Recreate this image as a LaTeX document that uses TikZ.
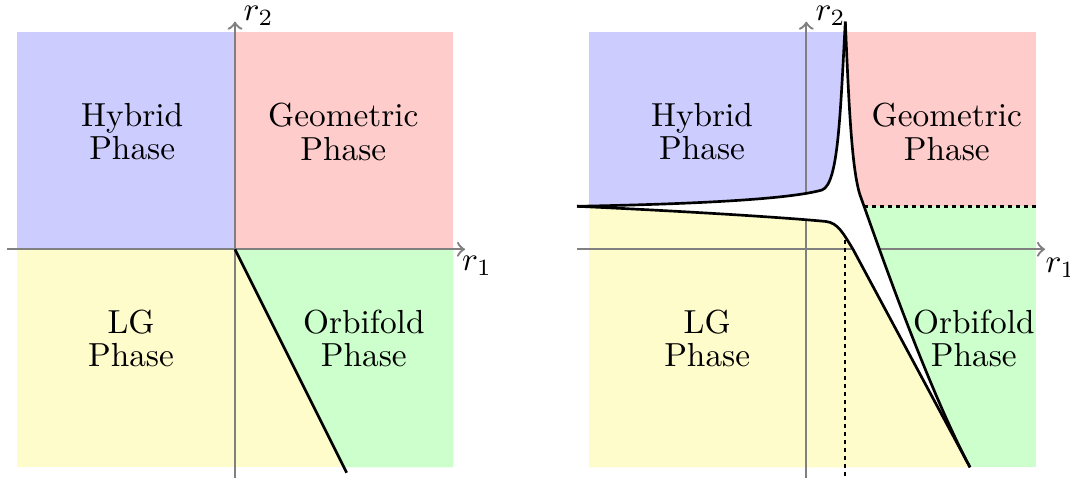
\documentclass[tikz,border=0pt]{standalone}
\begin{document}
\begin{tikzpicture}[x=0.3pt,y=-0.3pt,
  axis/.style={gray, line width=0.7pt, ->},
  bound/.style={black, line width=0.8pt},
  guide/.style={black, line width=0.8pt, dash pattern=on 1.2pt off 1.2pt},
  lbl/.style={align=center, inner sep=0pt, font=\fontsize{10}{10}\selectfont},
  axlbl/.style={anchor=base west, inner sep=0pt}]
\useasboundingbox (0,0) rectangle (1070,479);

% ---------- left diagram ----------
\fill[blue!20] (17.3,32.3) rectangle (235,249.3);
\fill[red!20] (235,32.3) rectangle (453.3,249.3);
\fill[yellow!20] (17.3,249.3) rectangle (453.3,467.3);
\fill[green!20] (235,249.3) -- (453.3,249.3) -- (453.3,467.3) -- (344,467.3) -- cycle;
\coordinate (LO) at (235,249.3);
\coordinate (LX0) at (7.3,249.3);
\coordinate (LX1) at (465,249.3);
\coordinate (LY0) at (235,478);
\coordinate (LY1) at (235,21.7);
\coordinate (LE) at (346.7,472.7);
\draw[axis] (LX0) -- (LX1);
\draw[axis] (LY0) -- (LY1);
\draw[bound] (LO) -- (LE);
\node[axlbl] (lr1) at (461.5,271) {$r_1$};
\node[axlbl] (lr2) at (243,20.5) {$r_2$};
\node[lbl] (lhyb) at (132.2,131.8) {Hybrid\\Phase};
\node[lbl] (lgeo) at (343.3,131.8) {Geometric\\Phase};
\node[lbl] (llg) at (131,338.4) {LG\\Phase};
\node[lbl] (lorb) at (363.8,338.4) {Orbifold\\Phase};

% ---------- right diagram ----------
\fill[red!20] (845,32.3) rectangle (1035.7,206.3);
\fill[green!20] (845,206.3) rectangle (1035.7,467.3);
\begin{scope}
  \clip (589,32.3) rectangle (1035.7,467.3);
  \fill[yellow!20] (577,206.3) .. controls (700,212) and (790,218) .. (826,221.5)
     .. controls (838,223) and (843,233) .. (853,249.3) -- (970,467.3)
     -- (577,467.3) -- cycle;
  \fill[blue!20] (577,206.3) .. controls (700,204) and (790,199) .. (822,190)
     .. controls (838,184) and (840,120) .. (845.3,21.7) -- (577,21.7) -- cycle;
\end{scope}
\coordinate (RX0) at (577,249.3);
\coordinate (RX1) at (1045,249.3);
\coordinate (RY0) at (806.3,478);
\coordinate (RY1) at (806.3,21.7);
\draw[axis] (RX0) -- (RX1);
\draw[axis] (RY0) -- (RY1);
% white gap between the boundaries
\fill[white] (577,206.3) .. controls (700,204) and (790,199) .. (822,190)
   .. controls (838,184) and (840,120) .. (845.3,21.7)
   .. controls (849,110) and (852,170) .. (860,195)
   .. controls (872,228) and (925,383) .. (970,467.3)
   -- (853,249.3) .. controls (843,233) and (838,223) .. (826,221.5)
   .. controls (790,218) and (700,212) .. (577,206.3) -- cycle;
\coordinate (RL) at (577,206.3);
\coordinate (RT) at (845.3,21.7);
\coordinate (RB) at (970,467.3);
\draw[bound] (RL) .. controls (700,204) and (790,199) .. (822,190)
   .. controls (838,184) and (840,120) .. (RT);
\draw[bound] (RT) .. controls (849,110) and (852,170) .. (860,195)
   .. controls (872,228) and (925,383) .. (RB);
\draw[bound] (RL) .. controls (700,212) and (790,218) .. (826,221.5)
   .. controls (838,223) and (843,233) .. (853,249.3) -- (RB);
\coordinate (DH0) at (864,206.3);
\coordinate (DH1) at (1035.7,206.3);
\coordinate (DV0) at (845,240);
\coordinate (DV1) at (845,479);
\draw[guide] (DH0) -- (DH1);
\draw[guide] (DV0) -- (DV1);
\node[axlbl] (rr1) at (1045,273) {$r_1$};
\node[axlbl] (rr2) at (815,20.5) {$r_2$};
\node[lbl] (rhyb) at (702,131.8) {Hybrid\\Phase};
\node[lbl] (rgeo) at (946.8,131.8) {Geometric\\Phase};
\node[lbl] (rlg) at (707.2,338.4) {LG\\Phase};
\node[lbl] (rorb) at (973.8,338.4) {Orbifold\\Phase};
\end{tikzpicture}
\end{document}
